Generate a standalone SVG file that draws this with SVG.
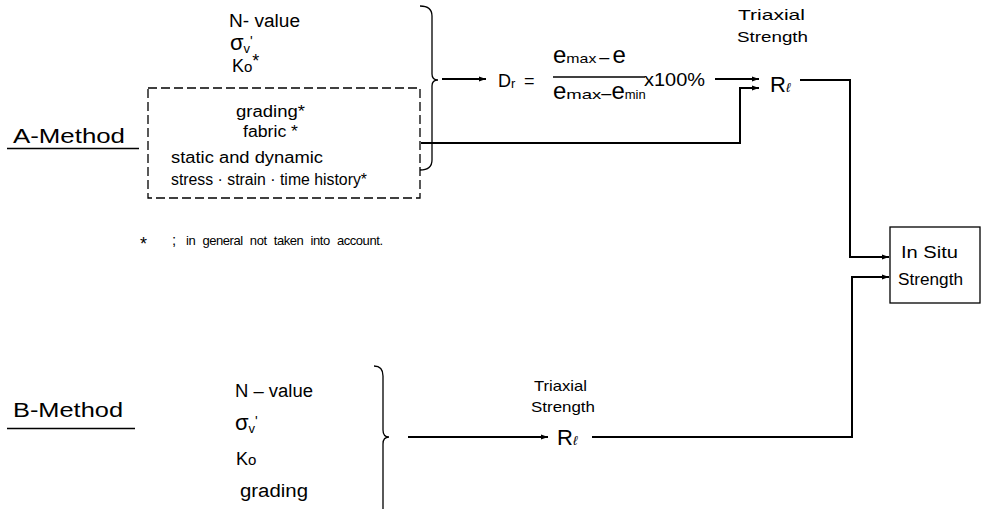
<svg xmlns="http://www.w3.org/2000/svg" width="981" height="509" viewBox="0 0 981 509">
<defs>
<marker id="ah" viewBox="0 0 10 10" refX="10" refY="5" markerWidth="11" markerHeight="7" markerUnits="userSpaceOnUse" orient="auto">
<path d="M0,1.5 L10,5 L0,8.5 Z" fill="#000"/>
</marker>
<style>
text{font-family:"Liberation Sans",Arial,sans-serif;fill:#000}
.lbl{font-size:20px}
.in{font-size:18px}
.sm{font-size:16px}
.fn{font-size:15px}
.sub{font-size:13px}
.big{font-size:24px}
.sig{font-size:22px}
.pr{font-size:14px}
.ln{fill:none;stroke:#000;stroke-width:2}
.thin{fill:none;stroke:#000;stroke-width:1.3}
.dash{fill:none;stroke:#000;stroke-width:1.3;stroke-dasharray:9,4}
</style>
</defs>
<rect width="981" height="509" fill="#fff"/>

<g id="a-method">
<text class="lbl" x="13" y="143" textLength="112" lengthAdjust="spacingAndGlyphs">A-Method</text>
<line class="thin" x1="7" y1="148.5" x2="139" y2="148.5"/>
</g>

<g id="a-inputs">
<text class="in" x="229" y="27" textLength="71" lengthAdjust="spacingAndGlyphs">N- value</text>
<text x="230" y="50"><tspan class="sig">σ</tspan><tspan class="sub" dy="3">v</tspan><tspan class="pr" dy="-7">'</tspan></text>
<text class="in" x="232" y="72">K<tspan font-size="15px">o</tspan><tspan dy="-5">*</tspan></text>
<rect class="dash" x="148" y="88" width="272" height="110"/>
<text class="sm" x="236" y="117" textLength="69" lengthAdjust="spacingAndGlyphs">grading*</text>
<text class="sm" x="243" y="137" textLength="55" lengthAdjust="spacingAndGlyphs">fabric *</text>
<text class="sm" x="171" y="163" textLength="152" lengthAdjust="spacingAndGlyphs">static and dynamic</text>
<text class="sm" x="171" y="185" textLength="196" lengthAdjust="spacingAndGlyphs">stress · strain · time history*</text>
<path class="thin" d="M420,6 Q432,6 432,16 L432,74 Q432,80 438,80 Q432,80 432,86 L432,160 Q432,170 420,170"/>
</g>

<g id="footnote">
<text x="140" y="250" font-size="18px">*</text>
<text class="fn" x="172" y="245">;</text>
<text x="186" y="245" font-size="13px" textLength="197" lengthAdjust="spacing" word-spacing="4">in general not taken into account.</text>
</g>

<g id="dr">
<text class="in" x="498" y="87">D<tspan class="sub" dy="1">r</tspan></text>
<text class="in" x="524" y="87">=</text>
<text x="553" y="63"><tspan class="big">e</tspan><tspan class="sub" textLength="30" lengthAdjust="spacingAndGlyphs">max</tspan><tspan class="in" dx="3">–</tspan><tspan class="big" dx="3">e</tspan></text>
<line class="thin" x1="553" y1="77" x2="645" y2="77"/>
<text x="553" y="99"><tspan class="big">e</tspan><tspan class="sub" textLength="35" lengthAdjust="spacingAndGlyphs">max</tspan><tspan class="in">–</tspan><tspan class="big">e</tspan><tspan class="sub">min</tspan></text>
<text class="in" x="644" y="86" textLength="61" lengthAdjust="spacingAndGlyphs">x100%</text>
</g>

<g id="rl-a">
<text class="fn" x="738" y="20" textLength="67" lengthAdjust="spacingAndGlyphs">Triaxial</text>
<text class="fn" x="737" y="42" textLength="71" lengthAdjust="spacingAndGlyphs">Strength</text>
<text x="770" y="92"><tspan font-size="22px">R</tspan><tspan class="sub" font-style="italic">ℓ</tspan></text>
</g>

<g id="in-situ">
<rect class="thin" x="890" y="227" width="90" height="76"/>
<text class="sm" x="901" y="258" textLength="57" lengthAdjust="spacingAndGlyphs">In Situ</text>
<text class="sm" x="898" y="285" textLength="65" lengthAdjust="spacingAndGlyphs">Strength</text>
</g>

<g id="b-method">
<text class="lbl" x="13" y="417" textLength="110" lengthAdjust="spacingAndGlyphs">B-Method</text>
<line class="thin" x1="7" y1="428.5" x2="135" y2="428.5"/>
</g>

<g id="b-inputs">
<text class="in" x="235" y="397" textLength="78" lengthAdjust="spacingAndGlyphs">N – value</text>
<text x="235" y="430"><tspan class="sig">σ</tspan><tspan class="sub" dy="3">v</tspan><tspan class="pr" dy="-7">'</tspan></text>
<text class="in" x="236" y="465">K<tspan font-size="15px">o</tspan></text>
<text class="in" x="240" y="497" textLength="68" lengthAdjust="spacingAndGlyphs">grading</text>
<path class="thin" d="M374,366 Q383,366 383,376 L383,430 Q383,437 389,437 Q383,437 383,444 L383,509"/>
</g>

<g id="rl-b">
<text class="fn" x="534" y="391" textLength="53" lengthAdjust="spacingAndGlyphs">Triaxial</text>
<text class="fn" x="531" y="412" textLength="64" lengthAdjust="spacingAndGlyphs">Strength</text>
<text x="557" y="445"><tspan font-size="22px">R</tspan><tspan class="sub" font-style="italic">ℓ</tspan></text>
</g>

<g id="connectors">
<line class="ln" x1="442" y1="79" x2="486" y2="79" marker-end="url(#ah)"/>
<line class="ln" x1="715" y1="79" x2="759" y2="79" marker-end="url(#ah)"/>
<polyline class="ln" points="421,143 740,143 740,88 759,88" marker-end="url(#ah)"/>
<polyline class="ln" points="800,80 850,80 850,257 889,257" marker-end="url(#ah)"/>
<polyline class="ln" points="592,437 852,437 852,277 889,277" marker-end="url(#ah)"/>
<line class="ln" x1="408" y1="437" x2="548" y2="437" marker-end="url(#ah)"/>
</g>
</svg>
